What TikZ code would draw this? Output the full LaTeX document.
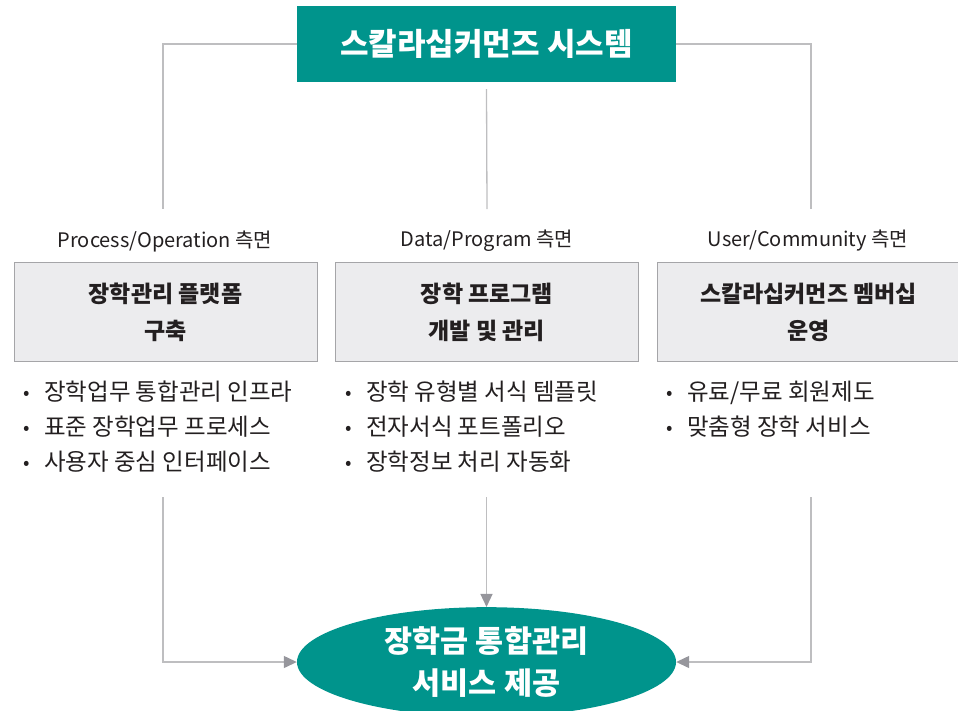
\documentclass[tikz,border=0pt]{standalone}
\usepackage{fontspec}
\setmainfont{Noto Sans CJK KR}
\usepackage{xcolor}
\usepackage{tikz}
\usetikzlibrary{shapes,arrows,positioning,calc,arrows.meta}

\definecolor{teal}{RGB}{0,148,140}
\definecolor{linegray}{RGB}{190,190,192}
\definecolor{tipgray}{RGB}{150,150,156}
\definecolor{boxfill}{RGB}{236,236,238}
\definecolor{boxline}{RGB}{165,165,168}
\definecolor{ink}{RGB}{35,31,32}

\newcommand{\bitem}[1]{\makebox[21pt][l]{\raisebox{1pt}{\fontsize{19}{19}\selectfont •}}#1}

\tikzset{
    sysbox/.style={rectangle, fill=teal, text=white, minimum width=379pt, minimum height=76pt,
        font=\fontsize{31}{34}\selectfont\bfseries},
    goal/.style={ellipse, fill=teal, text=white, minimum width=379pt, minimum height=96pt,
        align=center, font=\fontsize{30.5}{42}\selectfont\bfseries},
    aspect/.style={rectangle, draw=boxline, line width=1pt, fill=boxfill, text=ink,
        minimum width=303pt, minimum height=99pt, align=center,
        font=\fontsize{23}{37}\selectfont\bfseries},
    side/.style={text=ink, font=\fontsize{20}{22}\selectfont},
    items/.style={text=ink, align=left, anchor=north west, inner sep=0pt,
        font=\fontsize{23.5}{35}\selectfont},
    link/.style={draw=linegray, line width=1.3pt},
    arr/.style={link, -{Triangle[length=13pt,width=12pt,color=tipgray]}}
}

\begin{document}
\begin{tikzpicture}[x=1pt,y=-1pt]
    \useasboundingbox (0,0) rectangle (958,710);

    % System
    \node[sysbox] (sys) at (486.5,44) {스칼라십커먼즈 시스템};

    % Aspects
    \node[side] (lab1) at (165,241) {Process/Operation 측면};
    \node[side] (lab2) at (487,241) {Data/Program 측면};
    \node[side] (lab3) at (808,241) {User/Community 측면};

    \node[aspect] (box1) at (165.5,312) {장학관리 플랫폼\\구축};
    \node[aspect] (box2) at (487,312) {장학 프로그램\\개발 및 관리};
    \node[aspect] (box3) at (808.5,312) {스칼라십커먼즈 멤버십\\운영};

    % Items
    \node[items] (list1) at (23,381) {\bitem{장학업무 통합관리 인프라}\\\bitem{표준 장학업무 프로세스}\\\bitem{사용자 중심 인터페이스}};
    \node[items] (list2) at (345,381) {\bitem{장학 유형별 서식 템플릿}\\\bitem{전자서식 포트폴리오}\\\bitem{장학정보 처리 자동화}};
    \node[items] (list3) at (666,381) {\bitem{유료/무료 회원제도}\\\bitem{맞춤형 장학 서비스}};

    % Goal
    \node[goal] (svc) at (486.5,662) {장학금 통합관리\\서비스 제공};

    % Top links
    \coordinate (t1) at (163,209);
    \coordinate (t2) at (487,209);
    \coordinate (t3) at (811,209);
    \draw[link] (sys.west) -| (t1);
    \draw[link] (sys.east) -| (t3);
    \draw[link] ([yshift=-7pt]sys.south) -- (t2);

    % Bottom arrows
    \coordinate (b1) at (163,497);
    \coordinate (b2) at (486.5,497);
    \coordinate (b3) at (811,497);
    \draw[arr] (b1) |- (svc.west);
    \draw[arr] (b2) -- (svc.north);
    \draw[arr] (b3) |- (svc.east);
\end{tikzpicture}
\end{document}
